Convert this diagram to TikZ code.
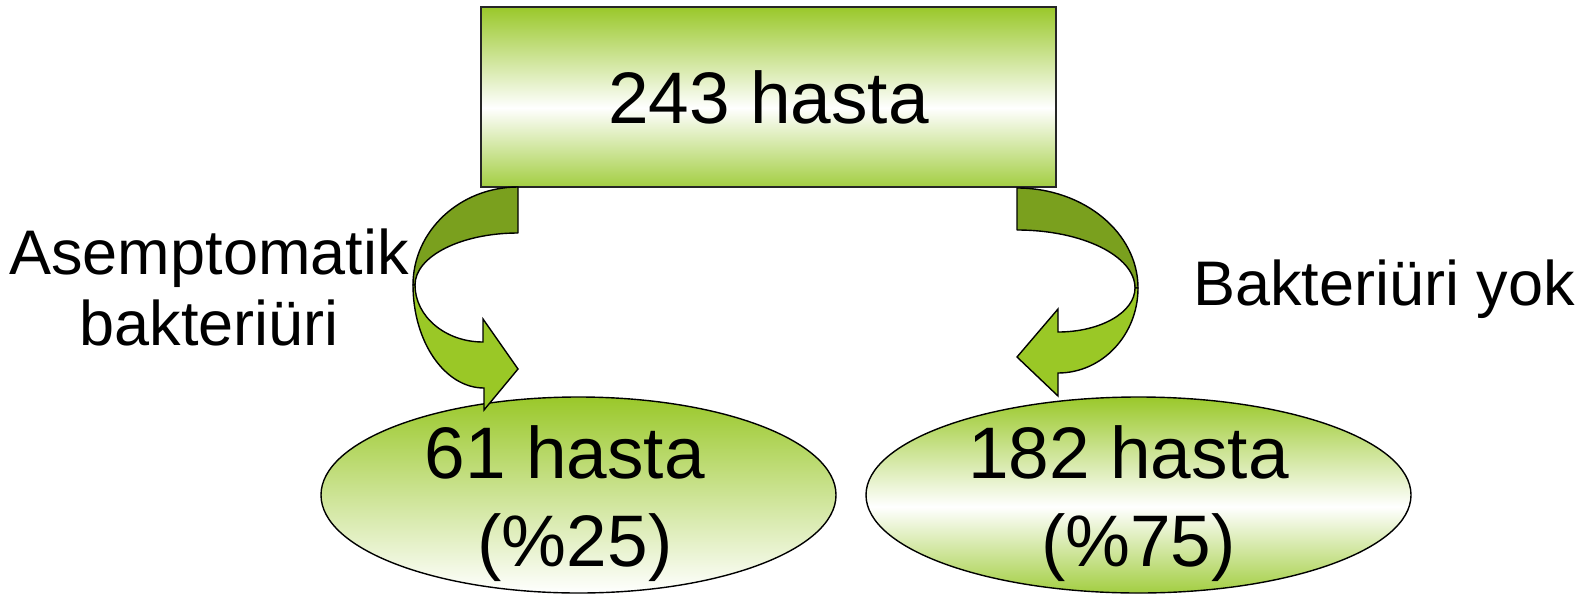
\documentclass[tikz,border=0pt]{standalone}
\usepackage{fontspec}
\setmainfont{Liberation Sans}
\usetikzlibrary{shapes.geometric}
\definecolor{gtop}{RGB}{154,200,42}
\definecolor{gbot}{RGB}{163,206,66}
\definecolor{arrdark}{RGB}{122,160,30}
\definecolor{arrlight}{RGB}{154,200,38}
\pgfdeclareverticalshading{midwhite}{100bp}{color(0bp)=(gbot); color(25bp)=(gbot); color(47bp)=(white); color(75bp)=(gtop); color(100bp)=(gtop)}
\pgfdeclareverticalshading{downwhite}{100bp}{color(0bp)=(white); color(25bp)=(white); color(75bp)=(gtop); color(100bp)=(gtop)}
\begin{document}
\begin{tikzpicture}[x=0.5pt,y=-0.5pt,
  boxnode/.style={rectangle, draw=black!85, line width=1pt, shade, shading=midwhite,
    minimum width=287.5pt, minimum height=90pt, inner sep=0pt,
    font=\fontsize{36.5}{44}\selectfont},
  ovalnode/.style={ellipse, draw=black, line width=0.7pt, shade, inner sep=0pt, minimum height=98pt},
  bigtext/.style={font=\fontsize{36.5}{44}\selectfont, inner sep=0pt, align=center},
  labeltext/.style={font=\fontsize{31.5}{35.5}\selectfont, inner sep=0pt, align=center},
  arrowback/.style={fill=arrdark, draw=black, line width=0.7pt, line join=round},
  arrowfront/.style={fill=arrlight, draw=black, line width=0.7pt, line join=miter},
]
\useasboundingbox (0,0) rectangle (1588,594);

\node[boxnode] (box) at (768.5,97) {243 hasta};

\node[ovalnode, shading=downwhite, minimum width=257.5pt] (e1) at (578.5,495) {};
\node[ovalnode, shading=midwhite, minimum width=272.5pt] (e2) at (1138.5,495) {};

\node[bigtext] (t1) at (575,504) {61 hasta\hphantom{t}\\(\%25)};
\node[bigtext] (t2) at (1138.5,504) {182 hasta\hphantom{t}\\(\%75)};

% left curved arrow
\draw[arrowback] (518,187) arc[start angle=270, end angle=180, x radius=105, y radius=98]
  -- (415,285) arc[start angle=180, end angle=270, x radius=103, y radius=52] -- cycle;
\draw[arrowfront] (413,285) arc[start angle=180, end angle=90, x radius=71, y radius=103]
  -- (484,410) -- (518,369) -- (483,319) -- (483,342)
  arc[start angle=90, end angle=180, x radius=68, y radius=57] -- cycle;

% right curved arrow
\draw[arrowback] (1017,188) arc[start angle=270, end angle=360, x radius=121, y radius=100]
  -- (1135,288) arc[start angle=0, end angle=-90, x radius=118, y radius=58] -- cycle;
\draw[arrowfront] (1138,288) arc[start angle=0, end angle=90, x radius=80, y radius=85]
  -- (1058,396) -- (1017,357) -- (1058,309) -- (1058,332)
  arc[start angle=90, end angle=0, x radius=77, y radius=44] -- cycle;

\node[labeltext] (l1) at (209,287.5) {Asemptomatik\\bakteriüri};
\node[labeltext, anchor=base west] (l2) at (1193,305) {Bakteriüri yok};
\end{tikzpicture}
\end{document}
